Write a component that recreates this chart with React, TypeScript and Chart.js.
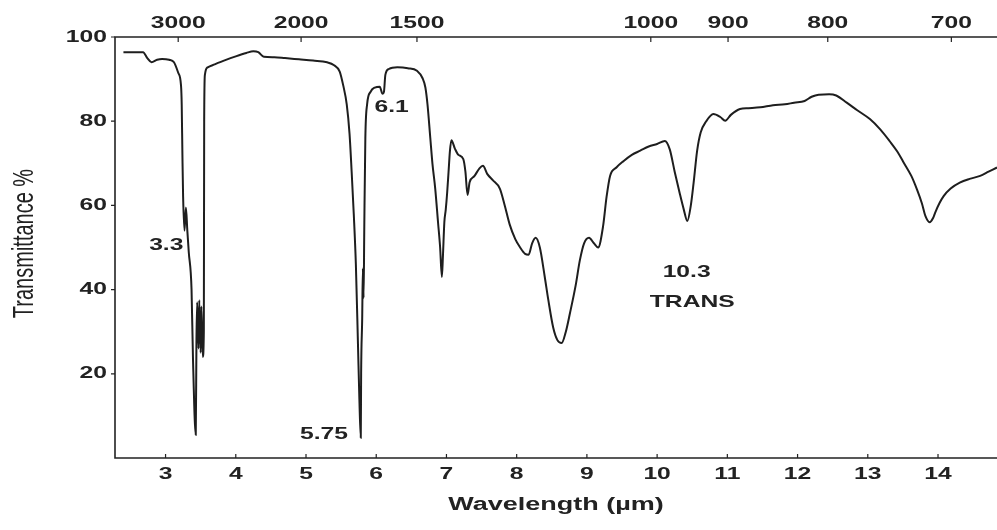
import React, { useEffect, useRef } from "react";
import { Chart, registerables } from "chart.js";

Chart.register(...registerables);

// Infrared spectrum: wavelength (µm) against transmittance (%)
const wavelength = [
  2.40, 2.68, 2.74, 2.80, 2.88, 2.95, 3.05, 3.12, 3.18, 3.22,
  3.23, 3.24, 3.25, 3.27, 3.29, 3.31, 3.33, 3.37, 3.39, 3.43,
  3.44, 3.45, 3.47, 3.48, 3.50, 3.51, 3.53, 3.545, 3.55, 3.56,
  3.60, 3.70, 3.85, 4.00, 4.15, 4.25, 4.32, 4.40, 4.55, 4.70,
  4.90, 5.10, 5.30, 5.40, 5.48, 5.53, 5.58, 5.62, 5.65, 5.68,
  5.71, 5.74, 5.76, 5.78, 5.785, 5.80, 5.81, 5.82, 5.83, 5.845,
  5.87, 5.92, 5.98, 6.05, 6.09, 6.11, 6.13, 6.18, 6.30, 6.45,
  6.58, 6.66, 6.70, 6.73, 6.77, 6.80, 6.84, 6.88, 6.91, 6.935,
  6.95, 6.97, 6.99, 7.01, 7.03, 7.05, 7.07, 7.12, 7.17, 7.24,
  7.27, 7.30, 7.33, 7.40, 7.47, 7.52, 7.58, 7.66, 7.76, 7.83,
  7.90, 7.98, 8.05, 8.12, 8.17, 8.22, 8.27, 8.33, 8.40, 8.45,
  8.52, 8.58, 8.64, 8.70, 8.76, 8.84, 8.90, 8.96, 9.03, 9.10,
  9.16, 9.23, 9.28, 9.33, 9.42, 9.52, 9.64, 9.76, 9.88, 10.00,
  10.11, 10.18, 10.25, 10.32, 10.38, 10.43, 10.48, 10.52, 10.57, 10.62,
  10.70, 10.80, 10.90, 10.97, 11.05, 11.18, 11.30, 11.47, 11.65, 11.82,
  11.95, 12.10, 12.20, 12.30, 12.45, 12.55, 12.70, 12.85, 13.03, 13.18,
  13.31, 13.42, 13.51, 13.62, 13.70, 13.77, 13.82, 13.88, 13.93, 13.96,
  14.02, 14.08, 14.18, 14.31, 14.45, 14.60, 14.72, 14.84,
];

const transmittance = [
  96.4, 96.4, 95.0, 94.0, 94.6, 94.8, 94.6, 94.0, 91.5, 88.5,
  84.0, 72.0, 62.0, 54.0, 59.5, 54.0, 49.0, 40.0, 24.0, 5.5,
  28.0, 37.0, 26.0, 37.5, 25.0, 36.0, 24.0, 30.0, 80.0, 91.0,
  92.8, 93.5, 94.5, 95.4, 96.2, 96.6, 96.4, 95.3, 95.2, 95.0,
  94.7, 94.4, 94.0, 93.3, 91.8, 88.5, 84.0, 77.0, 68.0, 58.0,
  46.0, 27.0, 14.0, 4.8, 20.0, 33.0, 45.0, 38.0, 55.0, 76.0,
  84.0, 87.0, 88.0, 88.2, 86.5, 87.0, 91.0, 92.4, 92.8, 92.6,
  92.0, 90.2, 88.0, 84.0, 76.0, 70.0, 64.0, 56.0, 50.0, 43.0,
  48.0, 56.0, 59.0, 63.0, 68.0, 73.0, 75.5, 73.5, 72.0, 71.0,
  68.0, 62.5, 65.5, 67.0, 68.8, 69.4, 67.5, 66.0, 64.0, 60.0,
  55.5, 52.0, 50.0, 48.5, 48.3, 51.0, 52.3, 50.0, 43.0, 37.6,
  31.0, 28.0, 27.3, 30.0, 34.5, 41.0, 47.0, 51.0, 52.3, 51.0,
  50.0, 55.0, 62.0, 67.0, 69.0, 70.5, 72.0, 73.0, 74.0, 74.6,
  75.3, 73.3, 68.0, 63.0, 59.0, 56.3, 60.0, 65.4, 73.0, 77.3,
  80.0, 81.7, 81.0, 80.1, 81.5, 82.9, 83.1, 83.3, 83.8, 84.0,
  84.4, 84.8, 85.8, 86.3, 86.4, 86.1, 84.4, 82.6, 80.5, 78.0,
  75.3, 72.8, 70.2, 67.0, 63.8, 60.5, 57.5, 56.0, 57.0, 58.3,
  60.5, 62.2, 64.0, 65.4, 66.3, 67.0, 68.0, 69.0,
];

// Bottom axis: wavelength ticks (µm)
const bottomTicks = [3, 4, 5, 6, 7, 8, 9, 10, 11, 12, 13, 14];
// Left axis: transmittance ticks (%)
const leftTicks = [20, 40, 60, 80, 100];
// Top axis: wavenumber labels (cm⁻¹) and where they sit on the wavelength scale
const topTickLabels = ["3000", "2000", "1500", "1000", "900", "800", "700"];
const topTickAt = [3.18, 4.93, 6.58, 9.91, 11.01, 12.43, 14.19];

// Band annotations
const bandLabels = ["3.3", "5.75", "6.1", "10.3", "TRANS"];
const bandLabelX = [3.01, 5.255, 6.22, 10.42, 10.5];
const bandLabelY = [50.6, 5.6, 83.3, 44.2, 36.9];

const INK = "#222222";
const STRETCH = 1.45;
const FACE = "'Liberation Sans', Arial, Helvetica, sans-serif";

function stretchedText(
  ctx: CanvasRenderingContext2D,
  text: string,
  x: number,
  y: number,
  font: string,
  align: CanvasTextAlign,
  sx: number
) {
  ctx.save();
  ctx.translate(x, y);
  ctx.scale(sx, 1);
  ctx.font = font;
  ctx.fillStyle = INK;
  ctx.textAlign = align;
  ctx.textBaseline = "middle";
  ctx.fillText(text, 0, 0);
  ctx.restore();
}

const spectrumFrame = {
  id: "spectrumFrame",
  afterDraw(chart: any) {
    const { ctx, chartArea, scales } = chart;
    const xs = scales.x;
    const ys = scales.y;
    const { left, right, top, bottom } = chartArea;

    ctx.save();
    ctx.strokeStyle = INK;
    ctx.lineWidth = 1.6;
    ctx.beginPath();
    ctx.moveTo(right, top);
    ctx.lineTo(left, top);
    ctx.lineTo(left, bottom);
    ctx.lineTo(right, bottom);
    ctx.stroke();

    ctx.lineWidth = 1.2;
    ctx.beginPath();
    bottomTicks.forEach((v) => {
      const px = xs.getPixelForValue(v);
      ctx.moveTo(px, bottom);
      ctx.lineTo(px, bottom - 4);
    });
    topTickAt.forEach((v) => {
      const px = xs.getPixelForValue(v);
      ctx.moveTo(px, top);
      ctx.lineTo(px, top + 5);
    });
    leftTicks.forEach((v) => {
      const py = ys.getPixelForValue(v);
      ctx.moveTo(left, py);
      ctx.lineTo(left - 4, py);
    });
    ctx.stroke();
    ctx.restore();

    const tickFont = `bold 17px ${FACE}`;
    bottomTicks.forEach((v) => {
      stretchedText(ctx, String(v), xs.getPixelForValue(v), bottom + 16, tickFont, "center", STRETCH);
    });
    topTickLabels.forEach((t, i) => {
      stretchedText(ctx, t, xs.getPixelForValue(topTickAt[i]), top - 14, tickFont, "center", STRETCH);
    });
    leftTicks.forEach((v) => {
      stretchedText(ctx, String(v), left - 8, ys.getPixelForValue(v), tickFont, "right", STRETCH);
    });

    bandLabels.forEach((t, i) => {
      stretchedText(
        ctx,
        t,
        xs.getPixelForValue(bandLabelX[i]),
        ys.getPixelForValue(bandLabelY[i]),
        `bold 17px ${FACE}`,
        "center",
        STRETCH
      );
    });

    // Axis titles
    stretchedText(ctx, "Wavelength (µm)", (left + right) / 2, bottom + 47, `bold 18px ${FACE}`, "center", 1.5);

    ctx.save();
    ctx.translate(25, (top + bottom) / 2 - 4);
    ctx.rotate(-Math.PI / 2);
    ctx.scale(1, STRETCH);
    ctx.font = `20px ${FACE}`;
    ctx.fillStyle = INK;
    ctx.textAlign = "center";
    ctx.textBaseline = "middle";
    ctx.fillText("Transmittance %", 0, 0);
    ctx.restore();
  },
};

export default function App() {
  const canvasRef = useRef<HTMLCanvasElement | null>(null);

  useEffect(() => {
    const canvas = canvasRef.current;
    if (!canvas) return;
    const points = wavelength.map((w, i) => ({ x: w, y: transmittance[i] }));
    const chart = new Chart(canvas, {
      type: "line",
      data: {
        datasets: [
          {
            data: points,
            borderColor: "#1e1e1e",
            borderWidth: 2,
            pointRadius: 0,
            fill: false,
            cubicInterpolationMode: "monotone",
          },
        ],
      },
      options: {
        animation: false,
        responsive: false,
        devicePixelRatio: 1,
        layout: { padding: { left: 115, top: 37, right: 0, bottom: 72 } },
        plugins: { legend: { display: false }, tooltip: { enabled: false } },
        scales: {
          x: { type: "linear", min: 2.28, max: 14.84, display: false },
          y: { type: "linear", min: 0, max: 100, display: false },
        },
      },
      plugins: [spectrumFrame],
    });
    return () => chart.destroy();
  }, []);

  return (
    <div style={{ position: "fixed", left: 0, top: 0, width: 997, height: 530, background: "#ffffff" }}>
      <canvas ref={canvasRef} width={997} height={530} style={{ display: "block" }} />
    </div>
  );
}
